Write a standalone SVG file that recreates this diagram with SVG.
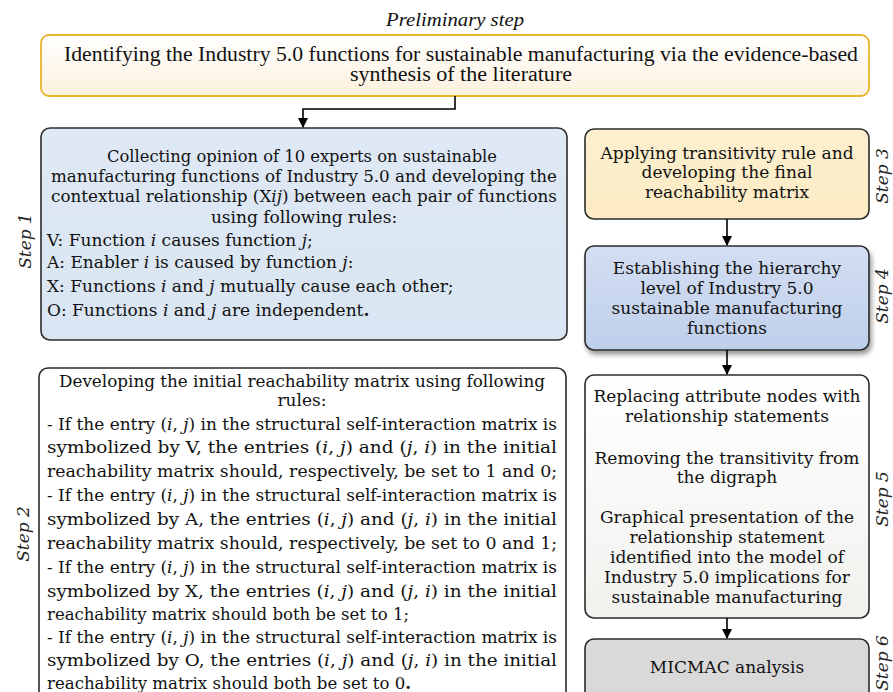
<svg xmlns="http://www.w3.org/2000/svg" width="893" height="692" viewBox="0 0 893 692">
<defs>
<linearGradient id="gTop" x1="0" y1="0" x2="0" y2="1"><stop offset="0" stop-color="#ffffff"/><stop offset="1" stop-color="#fdf1de"/></linearGradient>
<linearGradient id="gS1" x1="0" y1="0" x2="0" y2="1"><stop offset="0" stop-color="#dfe9f5"/><stop offset="1" stop-color="#d9e5f2"/></linearGradient>
<linearGradient id="gS3" x1="0" y1="0" x2="0" y2="1"><stop offset="0" stop-color="#fdf0cf"/><stop offset="1" stop-color="#fcebc4"/></linearGradient>
<linearGradient id="gS4" x1="0" y1="0" x2="0" y2="1"><stop offset="0" stop-color="#d3def2"/><stop offset="1" stop-color="#bfcfeb"/></linearGradient>
<linearGradient id="gS5" x1="0" y1="0" x2="0" y2="1"><stop offset="0" stop-color="#ffffff"/><stop offset="1" stop-color="#f1f1ee"/></linearGradient>
<filter id="sh" x="-10%" y="-10%" width="125%" height="130%"><feGaussianBlur in="SourceAlpha" stdDeviation="2.5"/><feOffset dx="2" dy="4"/><feComponentTransfer><feFuncA type="linear" slope="0.4"/></feComponentTransfer><feMerge><feMergeNode/><feMergeNode in="SourceGraphic"/></feMerge></filter>
<marker id="arr" markerWidth="10" markerHeight="10" refX="9" refY="5" orient="auto" markerUnits="userSpaceOnUse"><path d="M0,0 L10,5 L0,10 z" fill="#000"/></marker>
</defs>
<style>
text{font-family:"DejaVu Serif","Liberation Serif",serif;font-size:17px;fill:#111}
.c{text-anchor:middle}
.it{font-style:italic}
.cond{font-family:"Liberation Serif","DejaVu Serif",serif;font-size:20px}
.step{font-family:"DejaVu Serif","Liberation Serif",serif;font-style:italic;font-size:17px;text-anchor:middle;fill:#222}
.box{stroke:#2b2b2b;stroke-width:1.6}
.conn{fill:none;stroke:#000;stroke-width:1.6}
</style>
<rect width="893" height="692" fill="#ffffff"/>

<g id="preliminary">
<text class="c it cond" x="455" y="26" textLength="138" lengthAdjust="spacingAndGlyphs" style="font-size:19px">Preliminary step</text>
<rect x="41" y="35" width="828" height="61" rx="8" fill="url(#gTop)" stroke="#e9b52c" stroke-width="1.8"/>
<text class="c cond" x="461" y="61" textLength="794" lengthAdjust="spacingAndGlyphs">Identifying the Industry 5.0 functions for sustainable manufacturing via the evidence-based</text>
<text class="c cond" x="461" y="81" textLength="222" lengthAdjust="spacingAndGlyphs">synthesis of the literature</text>
</g>

<g id="step1">
<rect class="box" x="41" y="128" width="526" height="212" rx="9" fill="url(#gS1)"/>
<text class="c" x="302" y="162" textLength="390" lengthAdjust="spacingAndGlyphs">Collecting opinion of 10 experts on sustainable</text>
<text class="c" x="304" y="182" textLength="506" lengthAdjust="spacingAndGlyphs">manufacturing functions of Industry 5.0 and developing the</text>
<text class="c" x="304" y="202" textLength="506" lengthAdjust="spacingAndGlyphs">contextual relationship (X<tspan class="it">ij</tspan>) between each pair of functions</text>
<text class="c" x="304" y="223">using following rules:</text>
<text x="47" y="246">V: Function <tspan class="it">i</tspan> causes function <tspan class="it">j</tspan>;</text>
<text x="47" y="268">A: Enabler <tspan class="it">i</tspan> is caused by function <tspan class="it">j</tspan>:</text>
<text x="47" y="292">X: Functions <tspan class="it">i</tspan> and <tspan class="it">j</tspan> mutually cause each other;</text>
<text x="47" y="316">O: Functions <tspan class="it">i</tspan> and <tspan class="it">j</tspan> are independent<tspan font-weight="bold">.</tspan></text>
<text class="step" transform="translate(31,241) rotate(-90)">Step 1</text>
</g>

<g id="step2">
<rect class="box" x="39" y="368" width="527" height="340" rx="9" fill="#ffffff"/>
<text class="c" x="302" y="387" textLength="486" lengthAdjust="spacingAndGlyphs">Developing the initial reachability matrix using following</text>
<text class="c" x="302" y="406">rules:</text>
<text x="47" y="430" textLength="510" lengthAdjust="spacingAndGlyphs">- If the entry (<tspan class="it">i</tspan>, <tspan class="it">j</tspan>) in the structural self-interaction matrix is</text>
<text x="47" y="453" textLength="510" lengthAdjust="spacingAndGlyphs">symbolized by V, the entries (<tspan class="it">i</tspan>, <tspan class="it">j</tspan>) and (<tspan class="it">j</tspan>, <tspan class="it">i</tspan>) in the initial</text>
<text x="47" y="477" textLength="510" lengthAdjust="spacingAndGlyphs">reachability matrix should, respectively, be set to 1 and 0;</text>
<text x="47" y="501" textLength="510" lengthAdjust="spacingAndGlyphs">- If the entry (<tspan class="it">i</tspan>, <tspan class="it">j</tspan>) in the structural self-interaction matrix is</text>
<text x="47" y="525" textLength="510" lengthAdjust="spacingAndGlyphs">symbolized by A, the entries (<tspan class="it">i</tspan>, <tspan class="it">j</tspan>) and (<tspan class="it">j</tspan>, <tspan class="it">i</tspan>) in the initial</text>
<text x="47" y="549" textLength="510" lengthAdjust="spacingAndGlyphs">reachability matrix should, respectively, be set to 0 and 1;</text>
<text x="47" y="573" textLength="510" lengthAdjust="spacingAndGlyphs">- If the entry (<tspan class="it">i</tspan>, <tspan class="it">j</tspan>) in the structural self-interaction matrix is</text>
<text x="47" y="597" textLength="510" lengthAdjust="spacingAndGlyphs">symbolized by X, the entries (<tspan class="it">i</tspan>, <tspan class="it">j</tspan>) and (<tspan class="it">j</tspan>, <tspan class="it">i</tspan>) in the initial</text>
<text x="47" y="620" textLength="362" lengthAdjust="spacingAndGlyphs">reachability matrix should both be set to 1;</text>
<text x="47" y="643" textLength="510" lengthAdjust="spacingAndGlyphs">- If the entry (<tspan class="it">i</tspan>, <tspan class="it">j</tspan>) in the structural self-interaction matrix is</text>
<text x="47" y="666" textLength="510" lengthAdjust="spacingAndGlyphs">symbolized by O, the entries (<tspan class="it">i</tspan>, <tspan class="it">j</tspan>) and (<tspan class="it">j</tspan>, <tspan class="it">i</tspan>) in the initial</text>
<text x="47" y="689" textLength="364" lengthAdjust="spacingAndGlyphs">reachability matrix should both be set to 0<tspan font-weight="bold">.</tspan></text>
<text class="step" transform="translate(29,534) rotate(-90)">Step 2</text>
</g>

<g id="step3">
<rect class="box" x="585" y="129" width="284" height="90" rx="9" fill="url(#gS3)"/>
<text class="c" x="727" y="159">Applying transitivity rule and</text>
<text class="c" x="727" y="178">developing the final</text>
<text class="c" x="727" y="198">reachability matrix</text>
<text class="step" transform="translate(888,176) rotate(-90)">Step 3</text>
</g>

<g id="step4">
<rect class="box" x="585" y="246" width="284" height="104" rx="9" fill="url(#gS4)" filter="url(#sh)"/>
<text class="c" x="727" y="274">Establishing the hierarchy</text>
<text class="c" x="727" y="294">level of  Industry 5.0</text>
<text class="c" x="727" y="314">sustainable manufacturing</text>
<text class="c" x="727" y="334">functions</text>
<text class="step" transform="translate(888,296) rotate(-90)">Step 4</text>
</g>

<g id="step5">
<rect class="box" x="585" y="375" width="284" height="243" rx="9" fill="url(#gS5)"/>
<text class="c" x="727" y="402">Replacing attribute nodes with</text>
<text class="c" x="727" y="422">relationship statements</text>
<text class="c" x="727" y="464">Removing the transitivity from</text>
<text class="c" x="727" y="483">the digraph</text>
<text class="c" x="727" y="523">Graphical presentation of the</text>
<text class="c" x="727" y="543">relationship statement</text>
<text class="c" x="727" y="563">identified into the model of</text>
<text class="c" x="727" y="583">Industry 5.0 implications for</text>
<text class="c" x="727" y="603">sustainable manufacturing</text>
<text class="step" transform="translate(888,499) rotate(-90)">Step 5</text>
</g>

<g id="step6">
<rect class="box" x="585" y="639" width="284" height="70" rx="9" fill="#d9d9d9"/>
<text class="c" x="727" y="673">MICMAC analysis</text>
<text class="step" transform="translate(888,663) rotate(-90)">Step 6</text>
</g>

<g id="connectors">
<path class="conn" d="M455,96 V109 H303 V127" marker-end="url(#arr)"/>
<path class="conn" d="M727,219 V245" marker-end="url(#arr)"/>
<path class="conn" d="M727,350 V374" marker-end="url(#arr)"/>
<path class="conn" d="M727,618 V638" marker-end="url(#arr)"/>
</g>
</svg>
